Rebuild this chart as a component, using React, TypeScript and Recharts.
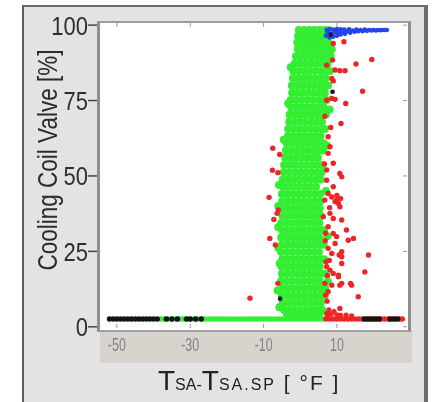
import React from "react";
import { ScatterChart, Scatter, XAxis, YAxis } from "recharts";

// ---- data ----
const xTicks = [-50, -30, -10, 10];
const yTicks = [0, 25, 50, 75, 100];
const LINE_Y = 2.6;

// dense green band: [y, x values]
const greenRows: Array<[number, number[]]> = [
  [98.4, [-0.4, 1.0, 2.4, 3.8, 5.2, 6.6, 7.8]],
  [96.4, [-0.6, 0.8, 2.2, 3.6, 5.0, 6.4, 7.9]],
  [94.2, [-0.8, 0.6, 2.0, 3.4, 4.8, 6.2, 7.6]],
  [92.0, [-0.7, 0.9, 2.3, 3.7, 5.1, 6.5, 7.8]],
  [89.6, [-1.2, 0.2, 1.6, 3.0, 4.4, 5.8, 7.2, 8.3]],
  [87.2, [-1.5, 0.0, 1.5, 3.0, 4.5, 6.0, 7.4]],
  [84.8, [-1.9, -0.4, 1.2, 2.6, 4.1, 5.6, 7.0, 8.1]],
  [82.4, [-2.0, -0.5, 1.0, 2.5, 4.0, 5.5, 6.9]],
  [80.0, [-2.3, -0.8, 0.7, 2.2, 3.7, 5.2, 6.6, 7.6]],
  [77.6, [-2.2, -0.7, 0.8, 2.3, 3.8, 5.3, 6.7]],
  [75.2, [-2.6, -1.1, 0.4, 1.9, 3.4, 4.9, 6.3, 7.2]],
  [72.8, [-2.5, -1.0, 0.5, 2.0, 3.5, 5.0, 6.4]],
  [70.4, [-2.9, -1.4, 0.1, 1.6, 3.1, 4.6, 6.0, 7.0]],
  [68.0, [-3.0, -1.5, 0.0, 1.5, 3.0, 4.5, 5.9]],
  [65.6, [-3.3, -1.8, -0.3, 1.2, 2.7, 4.2, 5.6, 6.7]],
  [63.2, [-3.4, -1.9, -0.4, 1.1, 2.6, 4.1, 5.5]],
  [60.8, [-3.7, -2.2, -0.7, 0.8, 2.3, 3.8, 5.2, 6.4]],
  [58.4, [-3.9, -2.4, -0.9, 0.6, 2.1, 3.6, 5.0, 6.2]],
  [56.0, [-4.1, -2.6, -1.1, 0.4, 1.9, 3.4, 4.8]],
  [53.6, [-4.4, -2.9, -1.4, 0.1, 1.6, 3.1, 4.6, 6.0]],
  [51.2, [-4.5, -3.0, -1.5, 0.0, 1.5, 3.0, 4.5, 5.8]],
  [48.8, [-4.8, -3.3, -1.8, -0.3, 1.2, 2.7, 4.2, 5.6]],
  [46.4, [-4.7, -3.2, -1.7, -0.2, 1.3, 2.8, 4.3]],
  [44.0, [-5.0, -3.5, -2.0, -0.5, 1.0, 2.5, 4.0, 5.4]],
  [41.6, [-4.9, -3.4, -1.9, -0.4, 1.1, 2.6, 4.1, 5.5]],
  [39.2, [-5.1, -3.6, -2.1, -0.6, 0.9, 2.4, 3.9, 5.3]],
  [36.8, [-4.8, -3.3, -1.8, -0.3, 1.2, 2.7, 4.2, 5.6]],
  [34.4, [-5.2, -3.7, -2.2, -0.7, 0.8, 2.3, 3.8, 5.2]],
  [32.0, [-4.9, -3.4, -1.9, -0.4, 1.1, 2.6, 4.1, 5.5, 6.5]],
  [29.6, [-5.2, -3.7, -2.2, -0.7, 0.8, 2.3, 3.8, 5.2]],
  [27.2, [-5.0, -3.5, -2.0, -0.5, 1.0, 2.5, 4.0, 5.4, 6.4]],
  [24.8, [-5.2, -3.7, -2.2, -0.7, 0.8, 2.3, 3.8, 5.1]],
  [22.4, [-4.9, -3.4, -1.9, -0.4, 1.1, 2.6, 4.1, 5.5, 6.5]],
  [20.0, [-5.1, -3.6, -2.1, -0.6, 0.9, 2.4, 3.9, 5.3]],
  [17.6, [-5.0, -3.5, -2.0, -0.5, 1.0, 2.5, 4.0, 5.4, 6.6]],
  [15.2, [-5.2, -3.7, -2.2, -0.7, 0.8, 2.3, 3.8, 5.2]],
  [12.8, [-4.9, -3.4, -1.9, -0.4, 1.1, 2.6, 4.1, 5.6, 6.8]],
  [10.4, [-5.0, -3.5, -2.0, -0.5, 1.0, 2.5, 4.0, 5.4, 6.7]],
  [8.0, [-4.8, -3.3, -1.8, -0.3, 1.2, 2.7, 4.2, 5.6]],
  [5.6, [-4.4, -2.9, -1.4, 0.1, 1.6, 3.1, 4.6, 6.0]],
  [4.0, [-3.6, -2.1, -0.6, 0.9, 2.4, 3.9, 5.2]],
];

const greenEdge: Array<[number, number]> = [
  [-5.8, 47], [-6.0, 33], [-5.6, 21], [-6.2, 12], [-5.7, 6.5], [-4.5, 62],
  [-3.3, 74], [-2.6, 86], [-6.0, 40], [-5.9, 26], [7.3, 60], [7.0, 45],
  [7.4, 30], [7.5, 15], [8.6, 92], [8.0, 72],
];

const greenLineX = [
  -38, -37, -36, -35, -34, -33, -32, -31, -30, -29, -28, -27, -26, -25, -24, -23,
  -22, -21, -20, -19, -18, -17, -16, -15, -14, -13, -12, -11, -10, -9, -8, -7, -6,
  -5, -4, -3, -2, -1, 0, 1, 2, 3, 4, 5, 6,
];
const blackLineX = [
  -52, -51, -50, -49, -48, -47, -46, -45, -44, -43, -42, -41, -40, -39, -36.5, -35,
  -33.5, -31, -30, -28.5, -27, 17.5, 18.5, 19.5, 20.5, 21.5, 24.5, 25.5, 26.5,
];
const redLineX = [
  7, 8, 9, 10, 11, 12, 13, 14, 15, 16, 17, 18, 19, 20, 21, 22, 23, 24, 25, 26, 27, 27.8,
];

const redBlock: Array<[number, number]> = [
  [7.2, 4.4], [7.8, 5.6], [8.4, 4.2], [9.2, 5.0], [10.0, 4.0], [7.4, 3.6],
  [11.0, 3.8], [12.5, 3.9], [14.0, 3.6],
];

const redLeft: Array<[number, number]> = [
  [-7.5, 59.2], [-5.6, 57.1], [-7.6, 51.9], [-6.1, 51.1], [-8.5, 42.9], [-6.0, 38.7],
  [-6.3, 37.6], [-7.2, 35.6], [-8.3, 29.3], [-6.8, 27.1], [-6.1, 14.4], [-13.7, 9.5],
];

const redRight: Array<[number, number]> = [
  [9.0, 93.9], [11.9, 94.5], [7.2, 86.7], [8.8, 88.4], [9.5, 85.1], [10.8, 84.9],
  [12.2, 84.9], [15.2, 87.1], [19.5, 88.6], [8.6, 82.3], [9.0, 81.5], [17.0, 78.1],
  [7.2, 75.1], [8.6, 75.7], [9.5, 75.4], [12.4, 74.0], [6.7, 69.8], [11.1, 67.4],
  [8.3, 66.1], [7.6, 63.0], [8.1, 59.7], [7.6, 57.5], [9.0, 54.2], [10.8, 50.8],
  [11.3, 49.7], [7.2, 48.6], [9.0, 46.4], [7.6, 44.2], [6.7, 42.0], [9.9, 42.0],
  [10.4, 40.9], [10.8, 39.8], [9.5, 41.5], [10.0, 43.5], [11.0, 42.5], [8.1, 37.6],
  [9.0, 35.9], [11.3, 35.4], [6.3, 36.5], [7.6, 33.2], [9.0, 30.9], [9.9, 29.9],
  [12.6, 32.1], [14.5, 29.3], [13.1, 28.7], [9.5, 27.6], [7.6, 26.0], [8.6, 24.3],
  [11.3, 23.2], [18.6, 23.8], [7.2, 19.9], [8.1, 18.8], [9.0, 17.7], [10.4, 16.6],
  [17.6, 18.2], [6.7, 14.4], [8.6, 13.8], [10.8, 13.8], [14.0, 13.8], [7.6, 11.6],
  [15.8, 10.0], [10.8, 6.1], [10.6, 23.8], [11.3, 24.9], [11.3, 21.0], [10.4, 17.1],
  [11.3, 14.4], [13.7, 14.4], [7.0, 21.5], [7.4, 17.0], [6.9, 10.5], [7.3, 8.5],
  [6.8, 28.5], [6.6, 54.0], [7.2, 52.0], [8.0, 39.5], [8.6, 43.0], [6.9, 31.0], [7.9, 22.0],
];

const blueCluster: Array<[number, number]> = [
  [7.0, 96.5], [7.2, 98.4], [7.5, 97.6], [8.0, 98.6], [8.0, 95.9], [8.5, 97.0],
  [9.0, 98.5], [9.0, 96.2], [9.5, 97.6], [10.0, 98.7], [10.0, 96.5], [10.5, 97.6],
  [11.0, 98.6], [11.0, 96.9], [11.5, 97.8], [12.0, 98.5], [12.2, 97.1], [12.8, 98.0],
  [13.3, 98.6], [13.6, 97.5], [14.2, 98.2], [14.8, 97.8], [15.3, 98.5], [15.8, 98.0],
  [16.4, 98.4], [17.0, 98.0], [17.6, 98.5], [18.2, 98.1], [18.8, 98.4], [19.4, 98.2],
  [20.0, 98.4], [20.6, 98.2], [21.2, 98.4], [21.8, 98.3], [22.4, 98.4], [23.0, 98.4],
  [23.6, 98.4],
];

const darkPoints: Array<[number, number]> = [
  [-5.5, 9.3], [8.3, 96.8], [8.8, 77.9],
];

// ---- helpers ----
const toPts = (arr: Array<[number, number]>) => arr.map(([x, y]) => ({ x, y }));
const linePts = (xs: number[]) => xs.map((x) => ({ x, y: LINE_Y }));

const greenData = [
  ...greenRows.flatMap(([y, xs]) => xs.map((x) => ({ x, y }))),
  ...toPts(greenEdge),
];

const dot = (r: number, fill: string) => (props: any) =>
  props.cx == null ? <g /> : <circle cx={props.cx} cy={props.cy} r={r} fill={fill} />;

const GREEN = "#33ee33";
const RED = "#ec2626";
const BLUE = "#2445ea";
const BLACK = "#141414";
const FONT = "'Liberation Sans', Arial, Helvetica, sans-serif";

const XTick = (props: any) => {
  const { x, y, payload } = props;
  return (
    <g>
      <line x1={x} x2={x} y1={y - 4} y2={y} stroke="#9a9a9a" strokeWidth={1} />
      <line x1={x} x2={x} y1={y - 305} y2={y - 301} stroke="#9a9a9a" strokeWidth={1} />
      <text
        transform={`translate(${x},${y + 17}) scale(1,1.5)`}
        textAnchor="middle"
        dominantBaseline="central"
        fontSize={12.5}
        fontFamily={FONT}
        fill="#828282"
      >
        {payload.value}
      </text>
    </g>
  );
};

const YTick = (props: any) => {
  const { x, y, payload } = props;
  return (
    <g>
      <line x1={x - 12} x2={x - 3} y1={y} y2={y} stroke="#444" strokeWidth={1.5} />
      <line x1={x + 303} x2={x + 307} y1={y} y2={y} stroke="#9a9a9a" strokeWidth={1} />
      <text
        transform={`translate(${x - 12},${y + 1}) scale(1,1.15)`}
        textAnchor="end"
        dominantBaseline="central"
        fontSize={22}
        fontFamily={FONT}
        fill="#2e2e2e"
      >
        {payload.value}
      </text>
    </g>
  );
};

export default function App() {
  return (
    <div
      style={{
        position: "absolute",
        left: 0,
        top: 0,
        width: 433,
        height: 402,
        overflow: "hidden",
        background: "#ffffff",
      }}
    >
      <div style={{ position: "absolute", left: 0, top: 0, width: 433, height: 402, filter: "blur(0.5px)" }}>
        {/* outer panel */}
        <div
          style={{
            position: "absolute",
            left: 22,
            top: 5,
            width: 400,
            height: 420,
            background: "#e3e3e3",
            borderLeft: "2px solid #5e5e5e",
            borderTop: "2px solid #6a6a6a",
            borderRight: "4px solid #6e6e6e",
          }}
        />
        {/* tick label band */}
        <div
          style={{
            position: "absolute",
            left: 100,
            top: 330,
            width: 312,
            height: 33,
            background: "#d8d4cd",
          }}
        />
        {/* plot frame */}
        <div
          style={{
            position: "absolute",
            left: 97,
            top: 21,
            width: 308,
            height: 307,
            background: "#ffffff",
            borderLeft: "3px solid #8e8e8e",
            borderTop: "2px solid #9c9c9c",
            borderRight: "3px solid #8c8c8c",
            borderBottom: "2px solid #a2a2a2",
          }}
        />
        <div style={{ position: "absolute", left: 0, top: 0 }}>
          <ScatterChart
            width={433}
            height={402}
            margin={{ top: 23, right: 26, bottom: 34, left: 40 }}
          >
            <XAxis
              type="number"
              dataKey="x"
              domain={[-54.6, 29.1]}
              ticks={xTicks}
              allowDataOverflow
              axisLine={false}
              tickLine={false}
              tickSize={0}
              tickMargin={0}
              height={40}
              tick={<XTick />}
              interval={0}
            />
            <YAxis
              type="number"
              dataKey="y"
              domain={[-0.4, 100.7]}
              ticks={yTicks}
              allowDataOverflow
              axisLine={false}
              tickLine={false}
              tickSize={0}
              tickMargin={0}
              width={60}
              tick={<YTick />}
              interval={0}
            />
            <Scatter data={greenData} shape={dot(4.0, GREEN)} isAnimationActive={false} />
            <Scatter data={linePts(greenLineX)} shape={dot(2.8, GREEN)} isAnimationActive={false} />
            <Scatter data={linePts(redLineX)} shape={dot(2.8, RED)} isAnimationActive={false} />
            <Scatter data={toPts(redBlock)} shape={dot(2.6, RED)} isAnimationActive={false} />
            <Scatter data={linePts(blackLineX)} shape={dot(2.8, BLACK)} isAnimationActive={false} />
            <Scatter data={toPts(redLeft)} shape={dot(2.7, RED)} isAnimationActive={false} />
            <Scatter data={toPts(redRight)} shape={dot(2.7, RED)} isAnimationActive={false} />
            <Scatter data={toPts(blueCluster)} shape={dot(2.3, BLUE)} isAnimationActive={false} />
            <Scatter data={toPts(darkPoints)} shape={dot(2.4, "#1c1c3a")} isAnimationActive={false} />
          </ScatterChart>
        </div>
        {/* titles */}
        <svg
          width={433}
          height={402}
          style={{ position: "absolute", left: 0, top: 0, pointerEvents: "none" }}
        >
          <text
            transform="translate(57,160) rotate(-90) scale(1,1.2)"
            textAnchor="middle"
            fontSize={22.5}
            fontFamily={FONT}
            fill="#2b2b2b"
          >
            Cooling Coil Valve [%]
          </text>
          <text x={158} y={390} fontFamily={FONT} fill="#222" style={{ whiteSpace: "pre" }}>
            <tspan fontSize={28}>T</tspan>
            <tspan fontSize={16}>SA-</tspan>
            <tspan fontSize={28}>T</tspan>
            <tspan fontSize={16} letterSpacing={2}>SA.SP</tspan>
            <tspan fontSize={21} letterSpacing={2}> [ °F ]</tspan>
          </text>
        </svg>
      </div>
    </div>
  );
}
